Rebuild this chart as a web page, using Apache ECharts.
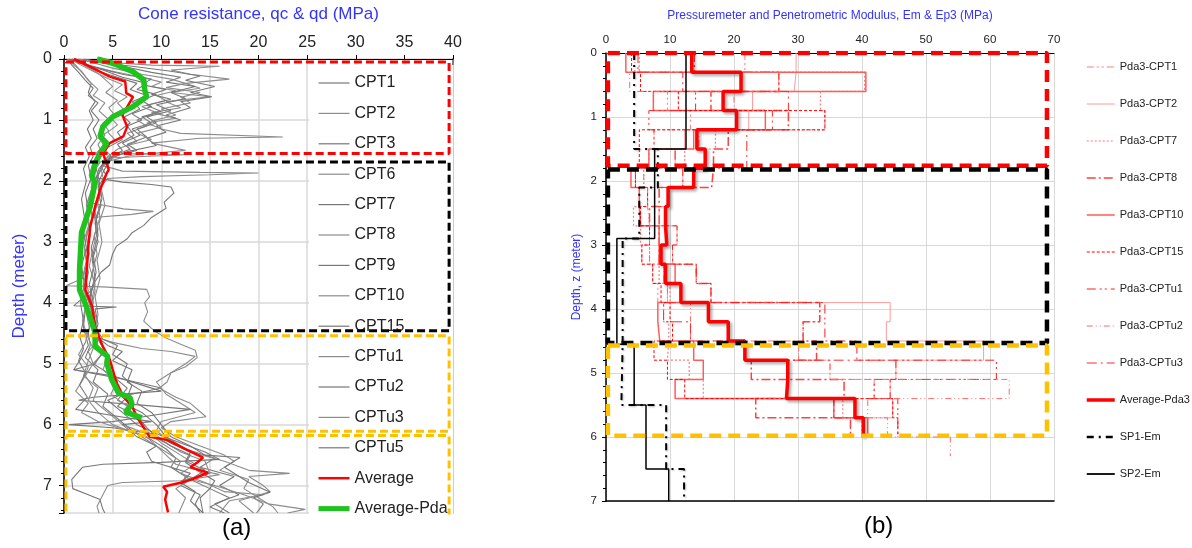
<!DOCTYPE html>
<html>
<head>
<meta charset="utf-8">
<style>
    html, body { margin: 0; padding: 0; background: #fff; }
    #echarts { width: 1192px; height: 548px; }
</style>
</head>
<body>
<div id="echarts"></div>
<script src="https://cdn.jsdelivr.net/npm/echarts@6/dist/echarts.min.js"></script>
<script>
    // (a) cone resistance profiles, points are [qc (MPa), depth (m)]
    const cpt1 = [[0.8,0],[2.0,0.08],[3.5,0.2],[5.5,0.3],[7.5,0.4],[6.8,0.5],[8.5,0.6],[7.0,0.7],[7.8,0.82],[6.2,0.95],[6.8,1.05],[5.5,1.2],[6.0,1.32],[4.5,1.45],[3.8,1.6],[3.2,1.75],[3.5,1.9],[2.8,2.1],[3.0,2.3],[2.4,2.6],[2.7,2.9],[2.2,3.2],[2.5,3.5],[2.1,3.8],[2.8,4.1],[3.0,4.4],[3.5,4.6],[4.2,4.8],[3.0,5.0],[5.0,5.2],[6.5,5.4],[5.5,5.6],[8.0,5.8],[9.5,6.0],[10.5,6.2],[12.5,6.4],[15.5,6.55],[14.0,6.7],[17.5,6.85],[16.0,7.0],[18.0,7.15],[15.5,7.3],[17.0,7.45]];
    const cpt2 = [[1.5,0],[4,0.05],[9,0.1],[16,0.12],[11,0.18],[13,0.25],[17,0.33],[12.5,0.4],[14,0.48],[11,0.55],[15,0.62],[10.5,0.7],[12,0.8],[9,0.88],[11.5,0.97],[8.5,1.05],[10,1.15],[12,1.22],[22.5,1.28],[14,1.3],[9,1.38],[12.5,1.5],[7,1.58],[4,1.7],[3.5,1.9],[3.8,2.2],[3.2,2.5],[3.5,2.8],[3.0,3.1],[2.6,3.4],[3.2,3.7],[2.8,4.0],[3.4,4.3],[3.0,4.55],[5,4.65],[8,4.75],[11,4.8],[13.5,4.88],[12.5,5.0],[11,5.15],[9.5,5.3],[10.5,5.5],[12,5.65],[13.5,5.8],[10,5.95],[9.5,6.1],[11,6.3],[13,6.45],[16.5,6.6],[19,6.75],[23.2,6.8],[19,6.85],[20.5,7.0],[21.2,7.1],[18,7.25],[19.5,7.45]];
    const cpt3 = [[0.5,0],[1.2,0.1],[2.0,0.25],[2.8,0.4],[2.5,0.55],[3.2,0.7],[2.6,0.85],[3.0,1.0],[2.4,1.15],[2.8,1.3],[2.2,1.45],[2.6,1.6],[2.0,1.8],[2.3,2.0],[1.8,2.3],[2.1,2.6],[1.6,2.9],[1.9,3.2],[1.5,3.5],[1.8,3.8],[2.2,4.1],[2.0,4.4],[2.5,4.7],[1.8,4.9],[1.0,5.1],[6,5.25],[10,5.4],[7,5.5],[3,5.55],[1.5,5.6],[8,5.68],[13,5.75],[9,5.85],[5,5.95],[0.5,6.0],[5,6.05],[9,6.15],[11,6.3],[13,6.45],[12.5,6.6],[14.5,6.75],[13,6.9],[15,7.05],[14,7.2],[14.3,7.45]];
    const cpt6 = [[1.0,0],[2.5,0.1],[5,0.2],[8,0.3],[10,0.38],[9,0.45],[11.5,0.52],[9.5,0.6],[10.5,0.68],[8,0.78],[9.5,0.88],[7.5,1.0],[8.5,1.1],[6.5,1.22],[7.5,1.35],[5.5,1.48],[4.5,1.6],[4.0,1.75],[6,1.84],[14,1.86],[20,1.87],[15,1.9],[8,1.93],[4.5,1.96],[3.8,2.1],[4.2,2.4],[3.6,2.7],[3.9,3.0],[3.4,3.3],[3.7,3.6],[3.2,3.9],[3.5,4.2],[2.9,4.5],[3.2,4.7],[4.5,4.9],[4.0,5.1],[5.5,5.3],[4.8,5.5],[6.5,5.7],[7.5,5.9],[8.5,6.1],[10,6.3],[12,6.5],[13.5,6.65],[12,6.8],[14.5,6.95],[16.5,7.1],[20.5,7.15],[17,7.25],[16,7.45]];
    const cpt7 = [[0.8,0],[2,0.08],[4,0.18],[6,0.3],[8.5,0.4],[7.5,0.5],[9.5,0.58],[8,0.68],[9,0.78],[7,0.9],[8,1.0],[6.5,1.1],[7.2,1.25],[5.5,1.4],[6.0,1.5],[4.5,1.65],[3.6,1.8],[3.3,1.95],[6,2.02],[9,2.06],[11,2.1],[11.3,2.2],[10.3,2.35],[10.5,2.45],[9,2.6],[8.2,2.73],[7.0,2.85],[6.5,2.95],[5.4,3.07],[5.0,3.2],[4.7,3.38],[3.8,3.5],[3.2,3.65],[2.6,3.9],[2.9,4.2],[2.5,4.5],[2.7,4.7],[2.2,4.9],[3.5,5.1],[3.0,5.3],[4.5,5.5],[4.0,5.7],[5.5,5.9],[7.0,6.1],[9,6.25],[10.5,6.4],[11.5,6.55],[11,6.7],[12.5,6.85],[12,7.0],[14,7.15],[13.5,7.3],[14,7.45]];
    const cpt8 = [[0.4,0],[1.0,0.1],[1.8,0.2],[2.5,0.35],[3.5,0.5],[3.0,0.6],[4.2,0.72],[3.6,0.85],[4.5,0.98],[3.8,1.1],[4.2,1.25],[3.5,1.4],[3.9,1.55],[3.0,1.7],[2.6,1.9],[2.9,2.1],[2.3,2.4],[2.6,2.7],[2.0,3.0],[2.3,3.3],[1.9,3.6],[0.2,3.72],[4,3.74],[8.5,3.78],[8.8,3.9],[8.3,4.0],[8.6,4.15],[8.2,4.3],[9.2,4.45],[10.5,4.58],[12,4.68],[13.5,4.78],[13.7,4.9],[12.5,5.05],[11,5.15],[10.6,5.3],[9.8,5.4],[11.5,5.55],[13,5.65],[14.6,5.87],[11,5.95],[10,6.05],[11.5,6.2],[14,6.35],[16.5,6.5],[17.5,6.6],[16,6.75],[19,6.9],[18.5,7.05],[20,7.2],[21.5,7.35],[22,7.45]];
    const cpt9 = [[1.2,0],[3,0.05],[7,0.12],[11,0.2],[14,0.28],[12.5,0.35],[15.5,0.45],[13,0.55],[15.2,0.62],[12,0.7],[13,0.8],[10.5,0.92],[12,1.0],[9.5,1.1],[10.5,1.2],[8.5,1.3],[9.5,1.42],[6.5,1.52],[5,1.62],[4.2,1.8],[3.6,2.0],[3.9,2.3],[3.3,2.6],[3.5,2.9],[3.0,3.2],[3.3,3.5],[2.8,3.8],[1.0,4.05],[5.4,4.07],[3.2,4.1],[3.5,4.35],[3.0,4.6],[4,4.8],[3.2,5.0],[1,5.1],[5,5.2],[10,5.45],[6,5.5],[4.5,5.6],[6.0,5.8],[7.5,6.0],[9.5,6.15],[12,6.3],[14.5,6.45],[16,6.57],[10,6.62],[4,6.65],[1.9,6.7],[0.8,6.9],[0.9,7.05],[2.5,7.15],[3.7,7.23],[4.0,7.39],[4.2,7.45]];
    const cpt10 = [[0.6,0],[1.5,0.08],[3,0.2],[4.5,0.32],[6,0.42],[5.2,0.52],[6.5,0.62],[5.5,0.72],[6.2,0.84],[4.8,0.96],[5.5,1.08],[4.5,1.2],[5.2,1.32],[4.0,1.46],[4.8,1.58],[3.5,1.72],[2.8,1.9],[3.1,2.1],[2.4,2.35],[6.1,2.46],[9.2,2.5],[7,2.55],[3,2.6],[2.5,2.8],[2.1,3.1],[2.4,3.4],[2.0,3.7],[2.3,4.0],[1.9,4.3],[2.4,4.55],[3,4.75],[2.5,4.95],[2.0,5.2],[3.5,5.4],[3,5.6],[4.5,5.8],[6,6.0],[8.5,6.15],[10.5,6.3],[12,6.45],[14.5,6.6],[15,6.8],[12,6.92],[6,6.95],[4.5,7.0],[4.0,7.15],[3.4,7.34],[3.6,7.45]];
    const cpt15 = [[2.0,0],[4,0.05],[6,0.12],[9,0.22],[12,0.3],[10.5,0.38],[13.5,0.45],[11,0.55],[12.5,0.65],[9.5,0.75],[11,0.85],[8.5,0.95],[9.5,1.05],[7.5,1.15],[8.5,1.28],[6.5,1.4],[7.5,1.5],[5,1.6],[4,1.75],[3.4,1.95],[3.7,2.2],[3.1,2.5],[3.3,2.8],[2.8,3.1],[3.1,3.4],[2.6,3.7],[3.0,4.0],[2.7,4.3],[3.3,4.55],[4.5,4.7],[6,4.8],[5,4.95],[7,5.1],[6.5,5.3],[8,5.45],[7.5,5.65],[9,5.8],[10,6.0],[11,6.2],[13,6.35],[14.5,6.5],[18.1,6.54],[16.5,6.7],[19,6.95],[21.2,7.11],[19.5,7.2],[20.5,7.3],[19.8,7.45]];
    const cptu1 = [[1.0,0],[2.0,0.1],[3.2,0.2],[4.0,0.3],[5.0,0.45],[4.3,0.55],[5.5,0.68],[4.6,0.8],[5.2,0.92],[4.0,1.05],[4.6,1.18],[3.6,1.3],[4.1,1.42],[3.3,1.55],[3.7,1.7],[3.0,1.85],[3.3,2.0],[2.6,2.3],[2.9,2.6],[2.3,2.9],[2.6,3.2],[2.1,3.5],[2.5,3.8],[2.2,4.1],[2.6,4.4],[2.2,4.65],[1.5,4.85],[2.5,5.05],[2.0,5.25],[1.2,5.45],[2.5,5.65],[1.8,5.8],[3.5,5.95],[6.5,6.1],[8.5,6.2],[9.5,6.35],[10.5,6.5],[11.5,6.65],[14,6.75],[16,6.82],[13,6.9],[15.5,7.0],[18.5,7.15],[21,7.3],[24.8,7.39],[23,7.45]];
    const cptu2 = [[0.5,0],[1.5,0.06],[3.5,0.15],[6,0.25],[9,0.33],[8,0.42],[10.5,0.5],[9,0.58],[11,0.66],[8.5,0.76],[10,0.86],[8,0.95],[9,1.05],[7,1.15],[7.8,1.25],[6,1.38],[6.8,1.48],[4.8,1.6],[3.8,1.76],[4.3,1.9],[3.5,2.1],[3.8,2.4],[3.2,2.7],[3.5,3.0],[2.9,3.3],[3.2,3.6],[2.7,3.9],[3.0,4.2],[3.4,4.45],[4.0,4.6],[5.5,4.7],[5.0,4.85],[6.5,5.0],[6.0,5.2],[7.0,5.35],[6.5,5.55],[5.5,5.7],[7.5,5.85],[8.5,6.05],[9.5,6.2],[11,6.35],[13,6.5],[12.5,6.62],[14,6.78],[15.5,6.92],[15,7.05],[17,7.2],[15,7.35],[16.5,7.45]];
    const cptu3 = [[1.5,0],[3,0.06],[5,0.15],[8,0.25],[11,0.33],[12.5,0.4],[10.5,0.47],[14,0.55],[12,0.63],[13,0.72],[10,0.82],[11.5,0.92],[9,1.02],[10,1.12],[7.5,1.22],[9,1.32],[6.5,1.42],[7,1.55],[12.4,1.57],[5,1.62],[3.8,1.8],[4.1,2.0],[3.4,2.3],[3.7,2.6],[3.1,2.9],[3.4,3.2],[2.9,3.5],[3.2,3.8],[2.8,4.1],[3.1,4.4],[3.6,4.6],[2.5,4.8],[3.0,5.0],[2.2,5.2],[3.0,5.4],[2.5,5.6],[3.5,5.8],[5,6.0],[7.5,6.15],[9,6.3],[10.5,6.45],[12,6.6],[11.5,6.75],[13,6.9],[11.5,7.05],[12.5,7.2],[11.8,7.45]];
    const cptu5 = [[0.3,0],[0.8,0.1],[1.5,0.22],[2.2,0.35],[3.0,0.48],[2.5,0.6],[3.5,0.72],[2.8,0.85],[3.6,1.0],[3.0,1.15],[3.4,1.3],[2.7,1.45],[3.0,1.6],[2.5,1.75],[2.8,1.95],[2.2,2.2],[2.5,2.5],[2.0,2.8],[2.3,3.1],[1.8,3.4],[2.1,3.7],[1.7,4.0],[2.0,4.3],[1.6,4.55],[2.0,4.75],[1.5,4.95],[2.2,5.15],[1.6,5.35],[2.4,5.55],[1.2,5.75],[5,5.85],[9,5.95],[6,6.0],[7.5,6.2],[9.5,6.35],[8.5,6.45],[9,6.6],[11,6.7],[13,6.8],[12,6.95],[13.5,7.1],[13,7.25],[14.3,7.45]];
    const average = [[1.0,0],[2.0,0.07],[4.7,0.29],[6.3,0.37],[6.4,0.56],[7.1,0.62],[6.3,0.84],[6.0,0.92],[6.5,1.11],[6.1,1.27],[4.7,1.38],[4.0,1.55],[4.4,1.71],[4.6,1.82],[4.4,1.87],[3.7,2.15],[3.2,2.42],[2.7,2.75],[2.5,3.08],[2.2,3.79],[2.9,4.06],[3.2,4.39],[3.7,4.6],[4.0,4.72],[4.7,4.93],[5.4,5.31],[6.1,5.54],[7.0,5.7],[7.5,5.87],[8.8,6.2],[10.6,6.25],[12.6,6.41],[14.3,6.54],[13.7,6.62],[13.0,6.7],[14.8,6.79],[13.1,6.9],[12.1,6.95],[10.2,7.02],[10.6,7.1],[10.4,7.23],[10.7,7.44]];
    const averagePda = [[3.4,0],[5.0,0.07],[7.1,0.21],[8.2,0.34],[8.3,0.51],[8.5,0.62],[7.1,0.78],[5.0,0.95],[4.0,1.11],[3.7,1.27],[4.4,1.38],[3.7,1.55],[3.2,1.71],[2.9,1.93],[3.2,2.03],[2.7,2.42],[1.8,2.85],[1.6,3.46],[1.6,3.79],[2.3,4.06],[3.2,4.49],[3.2,4.72],[4.5,4.88],[4.4,4.99],[4.9,5.26],[5.6,5.48],[6.8,5.56],[7.0,5.67],[6.3,5.79],[8.0,5.89]];

    const cptNames = ['CPT1', 'CPT2', 'CPT3', 'CPT6', 'CPT7', 'CPT8', 'CPT9', 'CPT10', 'CPT15', 'CPTu1', 'CPTu2', 'CPTu3', 'CPTu5'];
    const cptData = [cpt1, cpt2, cpt3, cpt6, cpt7, cpt8, cpt9, cpt10, cpt15, cptu1, cptu2, cptu3, cptu5];

    // zones of (a), depth limits (m)
    const zoneTopA = [0.05, 1.69, 4.54, 6.18];
    const zoneBottomA = [1.55, 4.46, 6.11, 7.8];

    // (b) moduli by 0.3 m layer (MPa)
    const layerDepths = [0, 0.3, 0.6, 0.9, 1.2, 1.5, 1.8, 2.1, 2.4, 2.7, 3.0, 3.3, 3.6, 3.9, 4.2, 4.5, 4.8, 5.1, 5.4, 5.7, 6.0, 6.3];
    const pdaCpt1 = [21.7, 27.0, 9.6, 13.2, 7.5, 6.7, 4.6, 6.5, 5.4, 6.8, 5.6, 7.3, 8.1, 33.4, 30.8, 30.1, 35.0, 41.9, 35.6, 38.2];
    const pdaCpt2 = [29.7, 29.4, 22.9, 22.3, 12.3, 10.8, 12.0, 9.8, 8.3, 11.1, 10.4, 9.0, 9.6, 44.4, 43.8, 59.0, 45.3, 44.4, 44.8, 40.4];
    const pdaCpt7 = [5.2, 40.4, 33.5, 34.2, 17.1, 12.3, 5.9, 5.2, 4.3, 5.4, 6.8, 8.3, 10.0, 9.0, 9.8, 9.6, 13.0, 15.2, 37.0, 40.0];
    const pdaCpt8 = [13.8, 27.0, 16.4, 28.5, 19.1, 16.8, 16.5, 8.3, 6.8, 8.3, 8.3, 14.1, 16.4, 33.4, 30.8, 32.9, 22.7, 37.2, 23.4, 38.2];
    const pdaCpt10 = [3.1, 40.6, 7.4, 24.9, 13.7, 6.7, 3.9, 5.2, 5.4, 8.3, 8.3, 10.8, 11.7, 8.1, 8.4, 13.7, 15.2, 10.8, 35.6, 40.9];
    const pdaCpt15 = [4.0, 5.4, 11.3, 34.2, 5.2, 5.2, 4.6, 6.5, 5.4, 6.8, 5.6, 7.3, 8.6, 10.0, 10.4, 7.5, 9.6, 12.3, 44.8, 45.6];
    const pdaCptu1 = [13.4, 21.0, 14.0, 6.7, 7.5, 10.8, 12.0, 9.8, 8.3, 11.1, 10.4, 14.1, 16.4, 34.2, 34.2, 39.2, 61.0, 41.9, 45.6, 45.6];
    const pdaCptu2 = [4.5, 3.7, 20.0, 20.5, 14.5, 15.5, 5.9, 6.5, 6.8, 6.8, 6.8, 9.0, 9.6, 13.2, 13.2, 30.1, 35.0, 63.0, 40.9, 44.0, 53.8];
    const pdaCptu3 = [5.0, 12.0, 28.5, 26.0, 22.0, 22.0, 4.6, 9.8, 9.3, 9.5, 8.6, 9.3, 11.7, 9.0, 13.2, 21.7, 45.3, 44.4, 35.6, 40.2];
    const averagePda3 = [13.4, 21.1, 18.3, 20.4, 14.2, 15.5, 13.7, 9.7, 9.3, 9.5, 8.6, 9.3, 11.7, 16.0, 19.1, 21.7, 28.4, 28.2, 38.9, 40.2];

    // pressuremeter tests
    const spDepths = [0, 1.5, 2.1, 2.9, 4.55, 5.5, 6.5, 7.0];
    const sp1Em = [4.4, 8.1, 5.2, 2.6, 2.4, 9.4, 12.2];
    const sp2Em = [12.5, 7.6, 7.6, 1.7, 4.4, 6.25, 9.8];

    const pdaNames = ['Pda3-CPT1', 'Pda3-CPT2', 'Pda3-CPT7', 'Pda3-CPT8', 'Pda3-CPT10', 'Pda3-CPT15', 'Pda3-CPTu1', 'Pda3-CPTu2', 'Pda3-CPTu3'];
    const pdaData = [pdaCpt1, pdaCpt2, pdaCpt7, pdaCpt8, pdaCpt10, pdaCpt15, pdaCptu1, pdaCptu2, pdaCptu3];

    // zones of (b)
    const zoneTopB = [0.0, 1.82, 4.57];
    const zoneBottomB = [1.76, 4.53, 5.98];

    let myChart = echarts.init(document.getElementById('echarts'));

    function stepPoints(depths, values) {
        let pts = [];
        values.forEach(function (v, i) {
            pts.push([v, depths[i]]);
            pts.push([v, depths[i + 1]]);
        });
        return pts;
    }

    function boxPoints(l, r, t, b) {
        return [[l, t], [r, t], [r, b], [l, b], [l, t]];
    }

    const FONT = 'Liberation Sans';
    const BLUE = '#3333ff';

    let series = [];
    let legendA = [], legendB = [];

    // (a) grey profiles
    cptData.forEach(function (d, i) {
        let c = i % 2 ? '#8c8c8c' : '#777777';
        series.push({
            name: cptNames[i], type: 'line', xAxisIndex: 0, yAxisIndex: 0,
            data: d, symbol: 'none',
            lineStyle: {color: c, width: 1.1}, itemStyle: {color: c}
        });
        legendA.push({name: cptNames[i], lineStyle: {width: 1.2}});
    });
    series.push({
        name: 'Average', type: 'line', xAxisIndex: 0, yAxisIndex: 0, data: average, symbol: 'none',
        lineStyle: {color: '#ff0000', width: 2.5}, itemStyle: {color: '#ff0000'}
    });
    legendA.push({name: 'Average', lineStyle: {width: 2.5}});
    series.push({
        name: 'Average-Pda', type: 'line', xAxisIndex: 0, yAxisIndex: 0, data: averagePda, symbol: 'none',
        lineStyle: {color: '#1ec31e', width: 5.5}, itemStyle: {color: '#1ec31e'}
    });
    legendA.push({name: 'Average-Pda', lineStyle: {width: 5}});

    const zoneColorsA = ['#ff0000', '#000000', '#ffc000', '#ffc000'];
    zoneTopA.forEach(function (t, i) {
        series.push({
            name: 'zoneA' + i, type: 'line', xAxisIndex: 0, yAxisIndex: 0, z: 10,
            data: boxPoints(0.2, 39.6, t, zoneBottomA[i]), symbol: 'none', silent: true,
            lineStyle: {color: zoneColorsA[i], width: 3, type: [8, 4]}
        });
    });

    // (b) step profiles
    const pdaStyles = [
        {color: '#ff7c80', width: 1, type: [7, 3, 2, 3, 2, 3]},
        {color: '#ff9a9a', width: 1, type: 'solid'},
        {color: '#ff7c80', width: 1.2, type: [2, 2]},
        {color: '#ff4040', width: 1.5, type: [9, 3, 2, 3]},
        {color: '#ff5c5c', width: 1.5, type: 'solid'},
        {color: '#ff0000', width: 1, type: [3, 2]},
        {color: '#ff2020', width: 1, type: [9, 4, 2, 3, 2, 4]},
        {color: '#ff6a6a', width: 1, type: [6, 3, 1, 3, 1, 3]},
        {color: '#ff2a2a', width: 1, type: [10, 4, 2, 4]}
    ];
    pdaData.forEach(function (v, i) {
        series.push({
            name: pdaNames[i], type: 'line', xAxisIndex: 1, yAxisIndex: 2,
            data: stepPoints(layerDepths, v), symbol: 'none',
            lineStyle: pdaStyles[i], itemStyle: {color: pdaStyles[i].color}
        });
        legendB.push({name: pdaNames[i], lineStyle: {width: pdaStyles[i].width}});
    });
    series.push({
        name: 'Average-Pda3', type: 'line', xAxisIndex: 1, yAxisIndex: 2,
        data: stepPoints(layerDepths, averagePda3), symbol: 'none',
        lineStyle: {color: '#ff0000', width: 3.5, shadowColor: 'rgba(0,0,0,0.35)', shadowBlur: 3, shadowOffsetX: 2, shadowOffsetY: 2},
        itemStyle: {color: '#ff0000'}
    });
    legendB.push({name: 'Average-Pda3', lineStyle: {width: 3.5}});
    series.push({
        name: 'SP1-Em', type: 'line', xAxisIndex: 1, yAxisIndex: 2,
        data: stepPoints(spDepths, sp1Em), symbol: 'none',
        lineStyle: {color: '#000', width: 2, type: [7, 5, 2, 5], shadowColor: 'rgba(0,0,0,0.25)', shadowBlur: 2, shadowOffsetX: 1, shadowOffsetY: 1},
        itemStyle: {color: '#000'}
    });
    legendB.push({name: 'SP1-Em', lineStyle: {width: 2.5}});
    series.push({
        name: 'SP2-Em', type: 'line', xAxisIndex: 1, yAxisIndex: 2,
        data: stepPoints(spDepths, sp2Em), symbol: 'none',
        lineStyle: {color: '#000', width: 1.5}, itemStyle: {color: '#000'}
    });
    legendB.push({name: 'SP2-Em', lineStyle: {width: 1.8}});

    const zoneColorsB = ['#ff0000', '#000000', '#ffc000'];
    zoneTopB.forEach(function (t, i) {
        series.push({
            name: 'zoneB' + i, type: 'line', xAxisIndex: 1, yAxisIndex: 2, z: 10,
            data: boxPoints(0.3, 68.9, t, zoneBottomB[i]), symbol: 'none', silent: true,
            lineStyle: {color: zoneColorsB[i], width: 4.5, type: [12, 7]}
        });
    });

    const option = {
        animation: false,
        backgroundColor: '#fff',
        textStyle: {fontFamily: FONT},
        grid: [
            {left: 64, top: 59, width: 389, height: 454},
            {left: 606, top: 53, width: 448, height: 448}
        ],
        xAxis: [
            {
                gridIndex: 0, type: 'value', position: 'top', min: 0, max: 40, interval: 5,
                name: 'Cone resistance, qc & qd (MPa)', nameLocation: 'middle', nameGap: 36,
                nameTextStyle: {color: BLUE, fontSize: 17, fontFamily: FONT},
                axisLine: {lineStyle: {color: '#000', width: 1}},
                axisTick: {show: true, length: 4, lineStyle: {color: '#000'}},
                axisLabel: {color: '#222', fontSize: 16, margin: 8, fontFamily: FONT},
                splitLine: {lineStyle: {color: '#d9d9d9', width: 1.5}}
            },
            {
                gridIndex: 1, type: 'value', position: 'top', min: 0, max: 70, interval: 10,
                name: 'Pressuremeter and Penetrometric Modulus, Em & Ep3 (MPa)', nameLocation: 'middle', nameGap: 31,
                nameTextStyle: {color: BLUE, fontSize: 12, fontFamily: FONT},
                axisLine: {lineStyle: {color: '#000', width: 1}},
                axisTick: {show: false},
                axisLabel: {color: '#222', fontSize: 11.5, margin: 7, fontFamily: FONT},
                splitLine: {lineStyle: {color: '#d9d9d9', width: 1}}
            },
            {
                gridIndex: 1, type: 'value', position: 'bottom', min: 0, max: 70,
                axisLine: {lineStyle: {color: '#000', width: 1.5}},
                axisTick: {show: false}, axisLabel: {show: false}, splitLine: {show: false}
            }
        ],
        yAxis: [
            {
                gridIndex: 0, type: 'value', inverse: true, min: 0, max: 7.45, interval: 1,
                name: 'Depth (meter)', nameLocation: 'middle', nameGap: 36,
                nameTextStyle: {color: BLUE, fontSize: 17, fontFamily: FONT},
                axisLine: {show: true, lineStyle: {color: '#000', width: 1.5}},
                axisTick: {show: true, length: 5, lineStyle: {color: '#000'}},
                minorTick: {show: true, splitNumber: 5, length: 3, lineStyle: {color: '#000'}},
                axisLabel: {color: '#222', fontSize: 16, margin: 12, showMaxLabel: false, fontFamily: FONT},
                splitLine: {lineStyle: {color: '#d9d9d9', width: 1.5}}
            },
            {
                gridIndex: 0, type: 'value', position: 'right', inverse: true, min: 0, max: 7.45,
                axisLine: {show: true, lineStyle: {color: '#7f7f7f', width: 2}},
                axisTick: {show: false}, axisLabel: {show: false}, splitLine: {show: false}
            },
            {
                gridIndex: 1, type: 'value', inverse: true, min: 0, max: 7, interval: 1,
                name: 'Depth, z (meter)', nameLocation: 'middle', nameGap: 23,
                nameTextStyle: {color: BLUE, fontSize: 12, fontFamily: FONT},
                axisLine: {show: true, lineStyle: {color: '#000', width: 1.5}},
                axisTick: {show: true, length: 4, lineStyle: {color: '#000'}},
                minorTick: {show: true, splitNumber: 5, length: 3, lineStyle: {color: '#000'}},
                axisLabel: {color: '#222', fontSize: 11.5, margin: 9, fontFamily: FONT},
                splitLine: {lineStyle: {color: '#d9d9d9', width: 1}}
            }
        ],
        legend: [
            {
                data: legendA,
                orient: 'vertical', left: 309, top: 65, z: 4,
                backgroundColor: '#fff', padding: [10, 6, 6, 7],
                itemWidth: 31, itemHeight: 16, itemGap: 14.4,
                itemStyle: {opacity: 0},
                textStyle: {fontSize: 16, lineHeight: 16, color: '#222', fontFamily: FONT}
            },
            {
                data: legendB,
                orient: 'vertical', left: 1085, top: 61,
                padding: 0,
                itemWidth: 28, itemHeight: 12, itemGap: 25,
                itemStyle: {opacity: 0},
                textStyle: {fontSize: 11, lineHeight: 12, color: '#222', fontFamily: FONT}
            }
        ],
        graphic: [
            {type: 'text', left: 222, top: 516, style: {text: '(a)', fontSize: 24, fontFamily: FONT, fill: '#000'}},
            {type: 'text', left: 864, top: 514, style: {text: '(b)', fontSize: 24, fontFamily: FONT, fill: '#000'}}
        ],
        series: series
    };

    myChart.setOption(option);
</script>
</body>
</html>
